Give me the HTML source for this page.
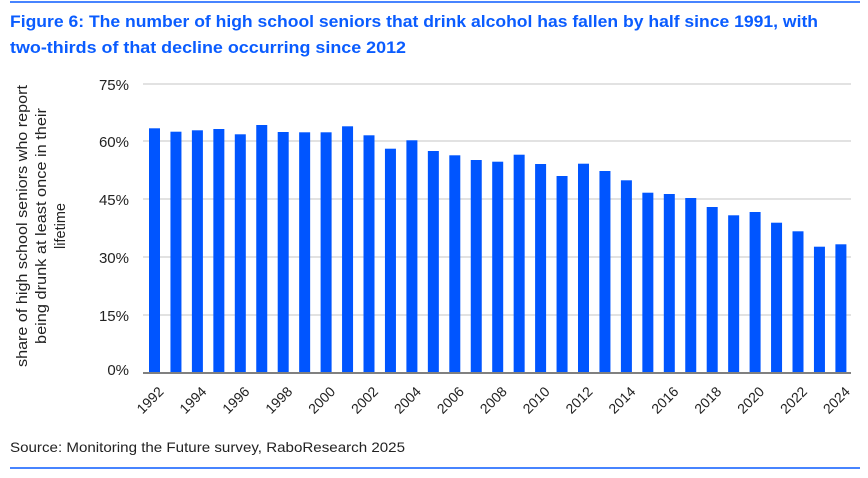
<!DOCTYPE html>
<html><head><meta charset="utf-8"><style>
html,body{margin:0;padding:0;background:#fff;}
svg{display:block;font-family:"Liberation Sans",sans-serif;}
</style></head><body>
<svg width="868" height="478" viewBox="0 0 868 478" xmlns="http://www.w3.org/2000/svg">
<line x1="10" y1="2" x2="860" y2="2" stroke="#0a5cff" stroke-width="1.5"/>
<text x="10" y="27" font-size="17" font-weight="bold" fill="#0a5cff" textLength="808" lengthAdjust="spacingAndGlyphs">Figure 6: The number of high school seniors that drink alcohol has fallen by half since 1991, with</text>
<text x="10" y="53" font-size="17" font-weight="bold" fill="#0a5cff" textLength="396" lengthAdjust="spacingAndGlyphs">two-thirds of that decline occurring since 2012</text>
<g stroke="#d9d9d9" stroke-width="1.5">
<line x1="143" y1="84" x2="851" y2="84"/>
<line x1="143" y1="141" x2="851" y2="141"/>
<line x1="143" y1="199" x2="851" y2="199"/>
<line x1="143" y1="257" x2="851" y2="257"/>
<line x1="143" y1="315" x2="851" y2="315"/>
</g>
<g font-size="15" fill="#222" text-anchor="end">
<text x="129" y="90">75%</text>
<text x="129" y="147">60%</text>
<text x="129" y="205">45%</text>
<text x="129" y="263">30%</text>
<text x="129" y="321">15%</text>
<text x="129" y="375">0%</text>
</g>
<g font-size="14.5" fill="#222" text-anchor="middle" transform="translate(0,226) rotate(-90)">
<text x="0" y="27" textLength="282" lengthAdjust="spacingAndGlyphs">share of high school seniors who report</text>
<text x="0" y="46" textLength="236" lengthAdjust="spacingAndGlyphs">being drunk at least once in their</text>
<text x="0" y="65">lifetime</text>
</g>
<g fill="#0055ff" id="bars"></g>
<line x1="143" y1="373" x2="851" y2="373" stroke="#808080" stroke-width="2"/>
<g id="xl" font-size="14" fill="#222" text-anchor="end"></g>
<text x="10" y="452" font-size="14" fill="#222" textLength="395" lengthAdjust="spacingAndGlyphs">Source: Monitoring the Future survey, RaboResearch 2025</text>
<line x1="10" y1="468" x2="860" y2="468" stroke="#0a5cff" stroke-width="1.5"/>
<script>
var tops=[128.3,131.7,130.3,129,134.3,125,132,132.3,132.3,126.3,135.3,148.7,140.3,151,155.3,160,161.7,154.7,164,176,163.7,171,180.3,192.7,194,198,207,215.3,212,222.7,231.3,246.7,244.3];
var ns="http://www.w3.org/2000/svg",b=document.getElementById("bars"),xl=document.getElementById("xl");
for(var i=0;i<33;i++){var x=149+21.45*i;var r=document.createElementNS(ns,"rect");
r.setAttribute("x",x);r.setAttribute("y",tops[i]);r.setAttribute("width",11);r.setAttribute("height",373-tops[i]);b.appendChild(r);
if(i%2==0){var t=document.createElementNS(ns,"text");var cx=x+12,cy=389;
t.setAttribute("transform","translate("+cx+","+cy+") rotate(-45)");t.setAttribute("x",0);t.setAttribute("y",5);
t.textContent=1992+i;xl.appendChild(t);}}
</script>
</svg>
</body></html>
